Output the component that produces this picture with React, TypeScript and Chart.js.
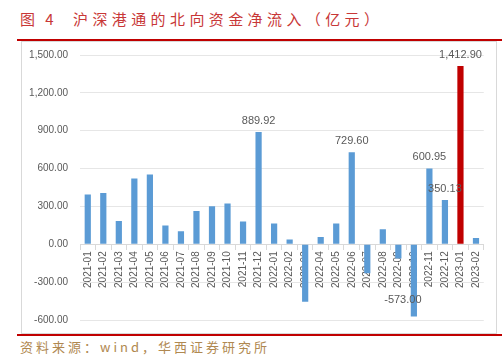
import React, { useEffect, useRef } from "react";
import { Chart, registerables } from "chart.js";

Chart.register(...registerables);

const categories = [
  "2021-01", "2021-02", "2021-03", "2021-04", "2021-05", "2021-06", "2021-07",
  "2021-08", "2021-09", "2021-10", "2021-11", "2021-12", "2022-01", "2022-02",
  "2022-03", "2022-04", "2022-05", "2022-06", "2022-07", "2022-08", "2022-09",
  "2022-10", "2022-11", "2022-12", "2023-01", "2023-02",
];
const values = [
  395, 407, 185, 522, 553, 148, 103,
  264, 302, 323, 180, 889.92, 164, 37,
  -455, 58, 164, 729.6, -230, 119, -112,
  -573, 600.95, 350.13, 1412.9, 50,
];
const highlightCategory = "2023-01";
const labeledCategories = ["2021-12", "2022-06", "2022-10", "2022-11", "2022-12", "2023-01"];
const yMin = -600;
const yMax = 1500;
const yStep = 300;

const TITLE_PREFIX = "图 4";
const TITLE = "沪深港通的北向资金净流入（亿元）";
const SOURCE = "资料来源：wind，华西证券研究所";

const BLUE = "#5b9bd5";
const RED = "#c00000";
const TEXT = "#595959";
const LATIN = "'Liberation Sans', Arial, sans-serif";
const CJK = "'Noto Sans CJK SC', sans-serif";

const fmt = (v: number) =>
  Number(v).toLocaleString("en-US", { minimumFractionDigits: 2, maximumFractionDigits: 2 });

const labelPlugin = {
  id: "valueLabels",
  afterDatasetsDraw(chart: any) {
    const ctx = chart.ctx;
    const meta = chart.getDatasetMeta(0);
    ctx.save();
    ctx.font = `11px ${LATIN}`;
    ctx.fillStyle = TEXT;
    ctx.textAlign = "center";
    ctx.textBaseline = "middle";
    meta.data.forEach((bar: any, i: number) => {
      if (!labeledCategories.includes(categories[i])) return;
      const v = values[i];
      let x = bar.x;
      let y: number;
      if (v >= 0) {
        y = bar.y - 11;
      } else {
        x = bar.x - 11;
        y = bar.y - 17;
      }
      ctx.fillText(fmt(v), x, y);
    });
    ctx.restore();
  },
};

export default function App() {
  const canvasRef = useRef<HTMLCanvasElement | null>(null);

  useEffect(() => {
    if (!canvasRef.current) return;
    const chart = new Chart(canvasRef.current, {
      type: "bar",
      data: {
        labels: categories,
        datasets: [
          {
            data: values,
            backgroundColor: categories.map((c) => (c === highlightCategory ? RED : BLUE)),
            borderWidth: 0,
            categoryPercentage: 0.8,
            barPercentage: 0.5,
          },
        ],
      },
      options: {
        animation: false,
        responsive: true,
        maintainAspectRatio: false,
        layout: { padding: { left: 0, right: 12.25, top: 13, bottom: 13 } },
        plugins: {
          legend: { display: false },
          tooltip: { enabled: false },
          title: { display: false },
        },
        scales: {
          x: {
            position: { y: 0 } as any,
            offset: true,
            grid: {
              display: true,
              drawOnChartArea: false,
              drawTicks: true,
              tickLength: 5,
              color: "#d9d9d9",
              offset: true,
            },
            border: { display: true, color: "#d9d9d9" },
            ticks: {
              autoSkip: false,
              minRotation: 90,
              maxRotation: 90,
              padding: 2,
              color: TEXT,
              font: { size: 10, family: LATIN },
            },
          },
          y: {
            min: yMin,
            max: yMax,
            ticks: {
              stepSize: yStep,
              padding: 0,
              color: TEXT,
              font: { size: 10, family: LATIN },
              callback: (v: any) => fmt(Number(v)),
            },
            grid: {
              color: "#e6e6e6",
              drawTicks: true,
              tickLength: 12,
              tickColor: "rgba(0,0,0,0)",
            },
            border: { display: false },
            afterFit: (s: any) => {
              s.width = 58;
            },
          },
        },
      },
      plugins: [labelPlugin],
    });
    return () => chart.destroy();
  }, []);

  const titleStyle: React.CSSProperties = {
    position: "absolute",
    top: 11,
    fontFamily: CJK,
    fontSize: 15,
    lineHeight: "15px",
    color: "#c83737",
    letterSpacing: "4.4px",
    whiteSpace: "nowrap",
  };

  return (
    <div
      style={{
        position: "absolute",
        left: 0,
        top: 0,
        width: 502,
        height: 360,
        background: "#fff",
        overflow: "hidden",
      }}
    >
      <div style={{ ...titleStyle, left: 20, letterSpacing: "3.5px" }}>{TITLE_PREFIX}</div>
      <div style={{ ...titleStyle, left: 73 }}>{TITLE}</div>
      <div style={{ position: "absolute", left: 17, top: 39, width: 485, height: 2, background: RED }} />
      <div
        style={{
          position: "absolute",
          left: 21,
          top: 41,
          width: 476,
          height: 293,
          boxSizing: "border-box",
          border: "1px solid #d9d9d9",
        }}
      />
      <div style={{ position: "absolute", left: 22, top: 42, width: 474, height: 291 }}>
        <canvas ref={canvasRef} />
      </div>
      <div style={{ position: "absolute", left: 17, top: 334, width: 485, height: 2, background: RED }} />
      <div
        style={{
          position: "absolute",
          left: 20,
          top: 340,
          fontFamily: CJK,
          fontSize: 13,
          lineHeight: "13px",
          color: "#b08850",
          letterSpacing: "3px",
          whiteSpace: "nowrap",
        }}
      >
        {SOURCE}
      </div>
    </div>
  );
}
